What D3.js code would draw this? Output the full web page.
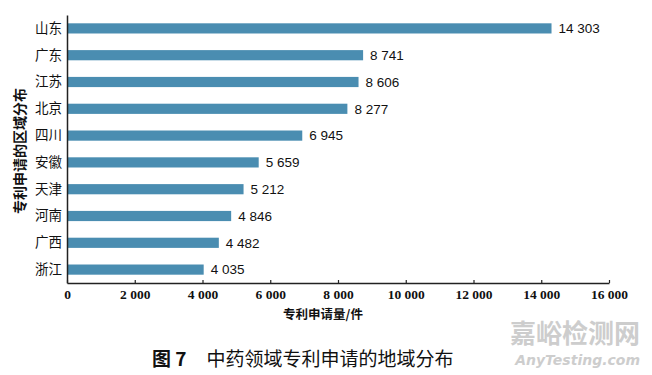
<!DOCTYPE html>
<html>
<head>
<meta charset="utf-8">
<script src="https://cdn.jsdelivr.net/npm/d3@7"></script>
<style>
  body { margin: 0; background: #fff; }
  text { fill: #111; }
</style>
</head>
<body>
<svg id="svg-region"></svg>
<script>
var provinces = ['山东', '广东', '江苏', '北京', '四川', '安徽', '天津', '河南', '广西', '浙江'];
var counts = [14303, 8741, 8606, 8277, 6945, 5659, 5212, 4846, 4482, 4035];
var xTicks = [0, 2000, 4000, 6000, 8000, 10000, 12000, 14000, 16000];

var width = 652,
    height = 375,
    plotLeft = 67,
    plotRight = 609,
    plotTop = 15,
    plotBottom = 283;

var svg = d3.select('#svg-region')
  .attr('width', width)
  .attr('height', height);

var x = d3.scaleLinear().domain([0, 16000]).range([plotLeft, plotRight]);
var y = d3.scaleBand().domain(provinces).range([plotTop, plotBottom])
  .paddingInner(0.62).paddingOuter(0.31);

// space grouping, like "14 303"
function fmt(v) {
  return d3.format(',')(v).replace(/,/g, ' ');
}

var data = provinces.map((p, i) => ({ name: p, value: counts[i] }));

svg.append('g')
  .selectAll('rect')
  .data(data)
  .enter().append('rect')
  .attr('x', x(0))
  .attr('y', d => y(d.name))
  .attr('width', d => x(d.value) - x(0))
  .attr('height', y.bandwidth())
  .attr('fill', '#4a8db1');

svg.append('g')
  .selectAll('text')
  .data(data)
  .enter().append('text')
  .attr('x', d => x(d.value) + 7)
  .attr('y', d => y(d.name) + y.bandwidth() / 2)
  .attr('dy', '0.36em')
  .attr('font-family', 'Liberation Sans, Arial, sans-serif')
  .attr('font-size', 13.5)
  .text(d => fmt(d.value));

// x axis, ticks pointing up
var xAxis = svg.append('g')
  .attr('transform', 'translate(0,' + plotBottom + ')')
  .call(d3.axisBottom(x).tickValues(xTicks).tickSizeInner(-3).tickSizeOuter(0).tickPadding(6).tickFormat(fmt));
xAxis.select('.domain').attr('stroke', '#222').attr('stroke-width', 1.5);
xAxis.selectAll('.tick line').attr('stroke', '#222').attr('stroke-width', 1.2);
xAxis.selectAll('text')
  .attr('font-family', 'Liberation Serif, Times New Roman, serif')
  .attr('font-weight', 'bold')
  .attr('font-size', 13.5)
  .attr('fill', '#111');

// y axis
var yAxis = svg.append('g')
  .attr('transform', 'translate(' + plotLeft + ',0)')
  .call(d3.axisLeft(y).tickSize(0).tickPadding(5));
yAxis.select('.domain').attr('stroke', '#222').attr('stroke-width', 1.5);
yAxis.selectAll('text')
  .attr('font-family', 'Noto Sans CJK SC, sans-serif')
  .attr('font-size', 13.5)
  .attr('fill', '#111');

// axis titles
svg.append('text')
  .attr('transform', 'translate(20,' + ((plotTop + plotBottom) / 2 + 2) + ') rotate(-90)')
  .attr('text-anchor', 'middle')
  .attr('dy', '0.35em')
  .attr('font-family', 'Noto Sans CJK SC, sans-serif')
  .attr('font-weight', 'bold')
  .attr('font-size', 14)
  .text('专利申请的区域分布');

svg.append('text')
  .attr('x', 323)
  .attr('y', 319)
  .attr('text-anchor', 'middle')
  .attr('font-family', 'Noto Sans CJK SC, sans-serif')
  .attr('font-weight', 'bold')
  .attr('font-size', 12.5)
  .text('专利申请量/件');

// caption
var cap = svg.append('text')
  .attr('x', 152)
  .attr('y', 366)
  .attr('font-family', 'Noto Sans CJK SC, sans-serif')
  .attr('font-size', 19);
cap.append('tspan').attr('font-weight', 'bold').text('图 7');
cap.append('tspan').attr('dx', 20).text('中药领域专利申请的地域分布');

// watermark
svg.append('text')
  .attr('x', 640)
  .attr('y', 343)
  .attr('text-anchor', 'end')
  .attr('font-family', 'Noto Sans CJK SC, sans-serif')
  .attr('font-weight', 'bold')
  .attr('font-size', 26)
  .style('fill', '#cdcdcd')
  .text('嘉峪检测网');

svg.append('text')
  .attr('x', 640)
  .attr('y', 365)
  .attr('text-anchor', 'end')
  .attr('font-family', 'DejaVu Sans, sans-serif')
  .attr('font-style', 'italic')
  .attr('font-weight', 'bold')
  .attr('font-size', 14)
  .style('fill', '#cdcdcd')
  .text('AnyTesting.com');
</script>
</body>
</html>
